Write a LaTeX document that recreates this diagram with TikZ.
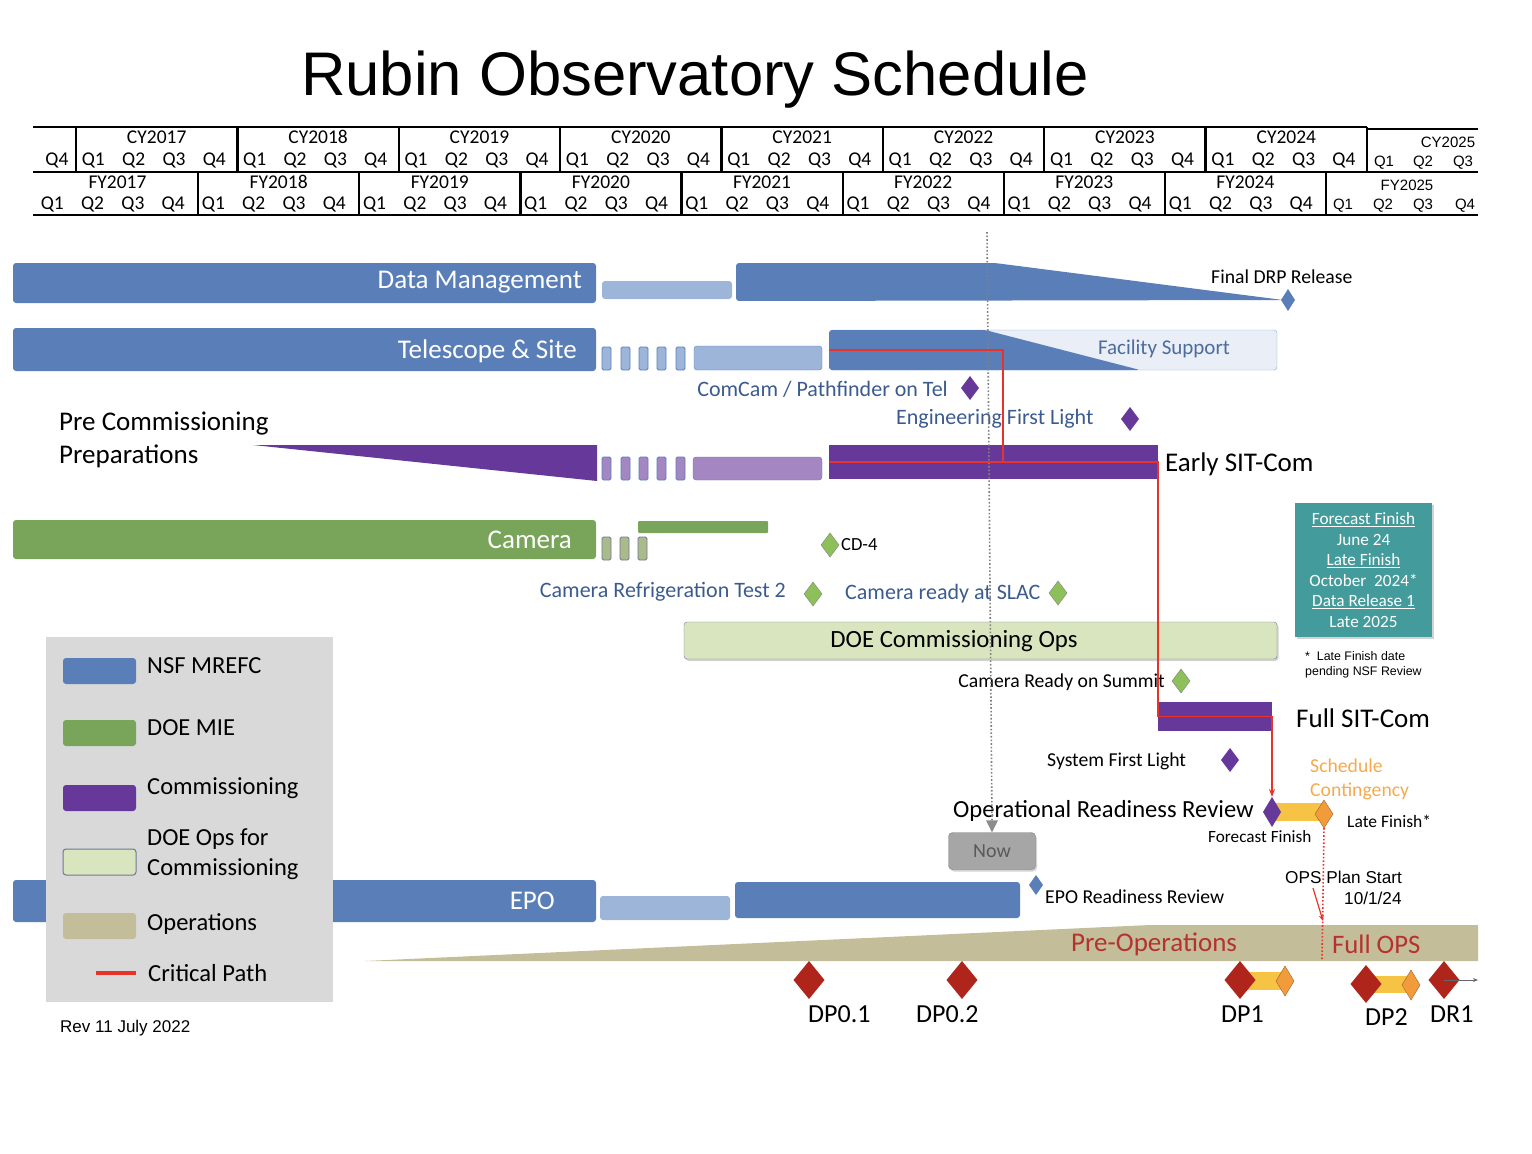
\documentclass[tikz,border=0pt]{standalone}
\usepackage{fontspec}
\setmainfont{Carlito}
\newfontfamily\arialfont{Liberation Sans}
\usetikzlibrary{positioning,shapes.geometric,arrows.meta,shadows}

\definecolor{nsfblue}{HTML}{5A7FB8}
\definecolor{nsflight}{HTML}{9DB5D9}
\definecolor{facfill}{HTML}{E9EEF7}
\definecolor{facline}{HTML}{8EA9D6}
\definecolor{commpurple}{HTML}{66389A}
\definecolor{commlight}{HTML}{A486C2}
\definecolor{doegreen}{HTML}{78A55A}
\definecolor{doelight}{HTML}{AABB8B}
\definecolor{msgreen}{HTML}{8DC05A}
\definecolor{doeops}{HTML}{D9E5BE}
\definecolor{doeline}{HTML}{6F7896}
\definecolor{opstan}{HTML}{C4BD99}
\definecolor{dpred}{HTML}{B0251B}
\definecolor{contyellow}{HTML}{F6C344}
\definecolor{contorange}{HTML}{F29B3A}
\definecolor{schedorange}{HTML}{F5AA50}
\definecolor{tealbox}{HTML}{449B9C}
\definecolor{mstext}{HTML}{3B5B8E}
\definecolor{preopsred}{HTML}{B5322E}
\definecolor{legendgrey}{HTML}{D9D9D9}
\definecolor{critred}{HTML}{E8332A}
\definecolor{nowfill}{HTML}{A6A6A6}

\newcommand\fsz[1]{\fontsize{#1}{#1}\selectfont}

\tikzset{
    wh/.style 2 args={minimum width=#1, minimum height=#2},
    bar/.style={
        anchor=north west,
        inner sep=0,
        outer sep=0,
        rounded corners=3pt,
    },
    small bar/.style={
        bar,
        rounded corners=1.5pt,
        wh={9}{23},
        line width=0.8pt,
    },
    bar label/.style={
        anchor=east,
        text=white,
        font=\fsz{27},
        inner sep=0,
    },
    ms/.style 2 args={
        shape=diamond,
        inner sep=0,
        outer sep=0,
        minimum width=#1,
        minimum height=#2,
    },
    ms text/.style={
        inner sep=0,
        text=mstext,
        font=\fsz{22},
    },
    plain text/.style={
        inner sep=0,
        font=\fsz{19.7},
    },
    qtr label/.style={
        inner sep=0,
        font=\fsz{19.5},
    },
    late label/.style={
        inner sep=0,
        font=\arialfont\fsz{15},
    },
    hdr rule/.style={line width=2.4pt},
    critpath/.style={draw=critred, line width=1.6pt},
    soft shadow/.style={drop shadow={shadow xshift=1.5pt, shadow yshift=-2pt, opacity=0.35}},
}

\begin{document}
\begin{tikzpicture}[x=1pt, y=-1pt]
    \useasboundingbox (0,0) rectangle (1532,1154);

    \node[font=\arialfont\fsz{61.6}, inner sep=0] (title) at (695,80) {Rubin Observatory Schedule};

    % calendar year row
    \node[qtr label] (cy2016q4) at (57,160) {Q4};
    \foreach \yr [count=\i from 0] in {2017,...,2024} {
        \pgfmathsetmacro\xo{76+161.375*\i}
        \draw[hdr rule] (\xo,127) -- (\xo,172);
        \node[qtr label] (cy\yr) at (\xo+80.7,137) {CY\yr};
        \foreach \q in {1,...,4} {
            \node[qtr label] (cy\yr q\q) at (\xo+40.34*\q-23,160) {Q\q};
        }
    }
    \draw[hdr rule] (1367,127) -- (1367,172);
    \node[late label] (cy2025) at (1448,142) {CY2025};
    \foreach \x [count=\q] in {1384,1423,1463} {
        \node[late label] (cy2025q\q) at (\x,163) {Q\q};
    }

    % fiscal year row
    \foreach \yr [count=\i from 0] in {2017,...,2024} {
        \pgfmathsetmacro\xo{37+161.14*\i}
        \draw[hdr rule] (\xo+161.14,172) -- (\xo+161.14,215);
        \node[qtr label] (fy\yr) at (\xo+80.5,182) {FY\yr};
        \foreach \q in {1,...,4} {
            \node[qtr label] (fy\yr q\q) at (\xo+40.3*\q-25,204) {Q\q};
        }
    }
    \node[late label] (fy2025) at (1407,185) {FY2025};
    \foreach \x [count=\q] in {1343,1383,1423,1465} {
        \node[late label] (fy2025q\q) at (\x,206) {Q\q};
    }

    % table rules
    \draw[hdr rule] (33,127) -- (1367,127);
    \draw[hdr rule] (1367,129) -- (1478,129);
    \draw[hdr rule] (33,172) -- (1478,172);
    \draw[hdr rule] (33,215) -- (1478,215);

    % data management
    \node[bar, fill=nsfblue, wh={583}{40}] (dmbar) at (13,263) {};
    \node[bar label, left=14pt of dmbar.east, yshift=1pt] (dmlabel) {Data Management};
    \node[bar, fill=nsflight, wh={130}{18}] (dmgap) at (602,281) {};
    \fill[nsfblue, rounded corners=3pt] (736,263) -- (995,263) -- (1283,300) -- (736,301) -- cycle;
    \node[ms={14}{22}, fill=nsfblue] (drp) at (1288,300) {};
    \node[plain text, anchor=west] (drptext) at (1211,277) {Final DRP Release};

    % telescope and site
    \node[bar, fill=nsfblue, wh={583}{43}] (tsbar) at (13,328) {};
    \node[bar label, left=19pt of tsbar.east, yshift=-2pt] (tslabel) {Telescope \& Site};
    \foreach \x [count=\k] in {602,621,639,657,676} {
        \node[small bar, fill=nsflight, draw=nsfblue] (tsstep\k) at (\x,347) {};
    }
    \node[bar, fill=nsflight, draw=nsfblue, wh={128}{24}] (tsgap) at (694,346) {};
    \node[bar, fill=facfill, draw=facline, wh={447}{40}] (facbar) at (830,330) {};
    \fill[nsfblue, rounded corners=3pt] (829,330) -- (985,330) -- (1140,370) -- (829,370) -- cycle;
    \coordinate (tsstart) at (829,350);
    \node[ms text, text=nsfblue!85!black, font=\fsz{21}] (factext) at (1164,349) {Facility Support};

    \node[ms text, anchor=east] (comcamtext) at (948,389) {ComCam / Pathfinder on Tel};
    \node[ms={18}{24}, fill=commpurple] (comcam) at (970,388) {};
    \node[ms text, anchor=west] (efltext) at (896,419) {Engineering First Light};
    \node[ms={18}{24}, fill=commpurple] (efl) at (1130,419) {};

    % pre commissioning
    \node[anchor=west, align=left, font=\fontsize{27}{33}\selectfont, inner sep=0] (precomm) at (59,440) {Pre Commissioning\\Preparations};
    \fill[commpurple] (253,445) -- (597,445) -- (597,481) -- cycle;
    \foreach \x [count=\k] in {602,621,639,657,676} {
        \node[small bar, fill=commlight, draw=nsfblue] (pcstep\k) at (\x,457) {};
    }
    \node[bar, fill=commlight, draw=nsfblue, wh={129}{23}] (pcgap) at (693,457) {};
    \node[bar, rounded corners=0, fill=commpurple, wh={329}{34}] (escbar) at (829,445) {};
    \node[anchor=west, font=\fsz{27}, inner sep=0] (esclabel) at (1165,464) {Early SIT-Com};

    % camera
    \node[bar, fill=doegreen, wh={583}{39}] (cambar) at (13,520) {};
    \node[bar label, left=24pt of cambar.east] (camlabel) {Camera};
    \foreach \x [count=\k] in {602,620,638} {
        \node[small bar, fill=doelight, draw=doeline] (camstep\k) at (\x,537) {};
    }
    \node[bar, rounded corners=1pt, fill=doegreen, wh={130}{12}] (camtop) at (638,521) {};
    \node[ms={18}{24}, fill=msgreen, draw=gray] (cd4) at (830,545) {};
    \node[plain text, font=\fsz{18.5}, right=2pt of cd4] (cd4text) {CD-4};

    \node[ms text, anchor=east] (crttext) at (786,592) {Camera Refrigeration Test 2};
    \node[ms={18}{24}, fill=msgreen, draw=gray] (crt) at (813,594) {};
    \node[ms text, anchor=west] (slactext) at (845,594) {Camera ready at SLAC};
    \node[ms={18}{24}, fill=msgreen, draw=gray] (slac) at (1058,593) {};

    % doe ops
    \node[bar, fill=doeops, draw=doeline, wh={593}{37}, soft shadow] (doeopsbar) at (684,622) {};
    \node[inner sep=0, font=\fsz{24.8}] (doeopstext) at (954,641) {DOE Commissioning Ops};

    % forecast box
    \node[bar, rounded corners=0, fill=tealbox, wh={137}{134}, soft shadow] (fcbox) at (1295,503) {};
    \node[align=center, text=white, font=\fontsize{17.2}{20.6}\selectfont, inner sep=0] (fctext) at (fcbox.center)
        {\underline{Forecast Finish}\\June 24\\\underline{Late Finish}\\October~~2024*\\\underline{Data Release 1}\\Late 2025};
    \node[anchor=west, align=left, font=\arialfont\fontsize{12.4}{15}\selectfont, inner sep=0] (fcnote) at (1305,665)
        {*~~Late Finish date\\pending NSF Review};

    % summit and full sit-com
    \node[plain text, anchor=east] (summittext) at (1165,682) {Camera Ready on Summit};
    \node[ms={18}{24}, fill=msgreen, draw=gray] (summit) at (1181,681) {};
    \node[bar, rounded corners=0, fill=commpurple, wh={114}{29}] (fscbar) at (1158,702) {};
    \node[anchor=west, font=\fsz{27}, inner sep=0] (fsclabel) at (1296,718) {Full SIT-Com};

    \node[plain text, anchor=west] (sfltext) at (1047,761) {System First Light};
    \node[ms={18}{24}, fill=commpurple] (sfl) at (1230,760) {};
    \node[anchor=west, align=left, font=\fontsize{19.7}{24}\selectfont, text=schedorange, inner sep=0] (contingency) at (1310,779) {Schedule\\Contingency};

    % operational readiness
    \node[anchor=east, font=\fsz{24.6}, inner sep=0] (orrtext) at (1254,811) {Operational Readiness Review};
    \node[bar, rounded corners=0, fill=contyellow, wh={52}{18}] (orrslack) at (1272,803) {};
    \node[ms={18}{30}, fill=commpurple] (orr) at (1272,812) {};
    \node[ms={18}{28}, fill=contorange, draw=brown!80!black] (lfd) at (1324,814) {};
    \node[plain text, font=\fsz{17.5}, anchor=west] (lftext) at (1347,821) {Late Finish*};
    \node[plain text, font=\fsz{17.2}, anchor=west] (fftext) at (1208,837) {Forecast Finish};
    \node[anchor=west, align=left, font=\arialfont\fontsize{17.2}{21}\selectfont, inner sep=0] (opsplan) at (1285,888) {OPS Plan Start\\\hspace*{59pt}10/1/24};

    % now marker
    \node[rounded corners=4pt, fill=nowfill, draw=gray, wh={87}{37}, font=\fsz{20}, text=black!65, soft shadow] (now) at (992,851) {Now};

    % epo
    \node[bar, fill=nsfblue, wh={583}{42}] (epobar) at (13,880) {};
    \node[bar label, left=41pt of epobar.east] (epolabel) {EPO};
    \node[bar, fill=nsflight, wh={130}{24}] (epogap) at (600,896) {};
    \node[bar, fill=nsfblue, wh={285}{36}] (epomain) at (735,882) {};
    \node[ms={14}{20}, fill=nsfblue] (eporr) at (1036,885) {};
    \node[plain text, anchor=west] (eporrtext) at (1045,897) {EPO Readiness Review};

    % operations
    \fill[opstan] (365,961) -- (1150,925) -- (1478,925) -- (1478,961) -- cycle;
    \node[anchor=west, font=\fsz{27}, text=preopsred, inner sep=0] (preops) at (1071,944) {Pre-Operations};
    \node[anchor=west, font=\fsz{26.7}, text=preopsred, inner sep=0] (fullops) at (1332,944) {Full OPS};

    % data previews
    \node[bar, rounded corners=0, fill=contyellow, wh={45}{18}] (dp1slack) at (1240,972) {};
    \node[bar, rounded corners=0, fill=contyellow, wh={45}{17}] (dp2slack) at (1366,976) {};
    \foreach \x/\y/\t/\lx/\ly [count=\k] in {809/980/DP0.1/808/1014, 962/980/DP0.2/916/1014,
            1240/980/DP1/1221/1014, 1366/984/DP2/1365/1017, 1444/980/DR1/1430/1014} {
        \node[ms={31}{38}, fill=dpred] (dp\k) at (\x,\y) {};
        \node[anchor=west, font=\fsz{26}, inner sep=0] (dplabel\k) at (\lx,\ly) {\t};
    }
    \node[ms={18}{30}, fill=contorange, draw=brown!80!black] (dp1late) at (1285,981) {};
    \node[ms={18}{30}, fill=contorange, draw=brown!80!black] (dp2late) at (1411,985) {};
    \coordinate (dr1next) at (1478,980);
    \draw[gray!80!black, line width=0.8pt, -{Stealth[length=5pt, width=4pt]}] (dp5.center) -- (dr1next);

    % legend
    \node[bar, rounded corners=0, fill=legendgrey, wh={287}{365}] (legend) at (46,637) {};
    \foreach \c/\d/\y/\ty/\t [count=\k] in {
        nsfblue/none/658/666/{NSF MREFC},
        doegreen/none/720/728/{DOE MIE},
        commpurple/none/785/788/{Commissioning},
        doeops/doeline/849/854/{DOE Ops for\\Commissioning},
        opstan/none/913/924/{Operations}
    } {
        \node[bar, fill=\c, draw=\d, line width=1pt, wh={73}{26}] (swatch\k) at (63,\y) {};
        \node[anchor=west, align=left, font=\fontsize{24.5}{30}\selectfont, inner sep=0] (key\k) at (147,\ty) {\t};
    }
    \coordinate (cpkeya) at (96,973);
    \coordinate (cpkeyb) at (136,973);
    \draw[critred, line width=4pt] (cpkeya) -- (cpkeyb);
    \node[anchor=west, font=\fsz{24.6}, inner sep=0] (key6) at (148,973) {Critical Path};
    \node[anchor=west, font=\arialfont\fsz{17}, inner sep=0] (rev) at (60,1028) {Rev 11 July 2022};

    % now line
    \coordinate (nowtop) at (987,232);
    \draw[gray, dotted, line width=1.6pt] (nowtop) -- ([yshift=12pt]now.north);
    \draw[draw=none, fill=gray!90] ([yshift=12pt, xshift=-6pt]now.north) -- ([yshift=12pt, xshift=6pt]now.north) -- (now.north) -- cycle;

    % critical path
    \draw[critpath] (tsstart) -- ++(174,0) coordinate (cpturn) -- (cpturn |- escbar.west);
    \draw[critpath, -{Stealth[length=8pt, width=6pt]}] (escbar.west) -- (escbar.east) -- (fscbar.west) -- (fscbar.east) -- (orr.north);
    \coordinate (opsbottom) at (1322,960);
    \draw[critred, dotted, line width=1.6pt] (lfd.south) -- (opsbottom);
    \coordinate (opsfrom) at (1313,888);
    \coordinate (opsto) at (1323,921);
    \draw[critred, line width=1.2pt, -{Stealth[length=6pt, width=5pt]}] (opsfrom) -- (opsto);

\end{tikzpicture}
\end{document}
